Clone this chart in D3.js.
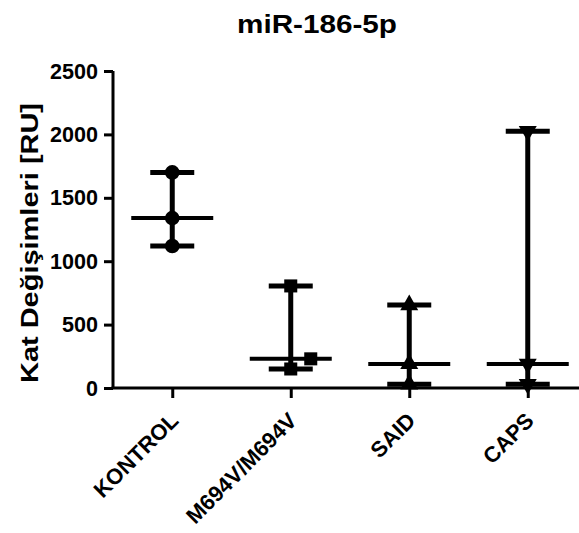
<!DOCTYPE html>
<html>
<head>
<meta charset="utf-8">
<script src="https://cdn.jsdelivr.net/npm/d3@7"></script>
<style>
  body { margin: 0; background: #fff; }
  text { font-family: Arial, "Liberation Sans", sans-serif; }
</style>
</head>
<body>
<svg id="chart" width="579" height="533"></svg>
<script>
const title = 'miR-186-5p';
const yLabel = 'Kat Değişimleri [RU]';
const categories = ['KONTROL', 'M694V/M694V', 'SAID', 'CAPS'];
const kontrol = [1700, 1340, 1120];
const m694v = [805, 230, 150];
const said = [655, 190, 30];
const caps = [2025, 190, 30];
const yTicks = [0, 500, 1000, 1500, 2000, 2500];
const markers = ['circle', 'square', 'triangle', 'triangleDown'];

const groups = [kontrol, m694v, said, caps];
const FONT = 'Arial, "Liberation Sans", sans-serif';

const svg = d3.select('#chart');
const x = d3.scalePoint().domain(categories).range([113, 587]).padding(0.5);
const y = d3.scaleLinear().domain([0, 2500]).range([388, 71]);

// title
svg.append('text')
  .attr('x', 317).attr('y', 33)
  .attr('text-anchor', 'middle')
  .attr('font-size', 25).attr('font-weight', 'bold')
  .attr('textLength', 160).attr('lengthAdjust', 'spacingAndGlyphs')
  .text(title);

// y axis label
svg.append('text')
  .attr('transform', 'translate(38,243) rotate(-90)')
  .attr('text-anchor', 'middle')
  .attr('font-size', 23).attr('font-weight', 'bold')
  .attr('textLength', 280).attr('lengthAdjust', 'spacingAndGlyphs')
  .text(yLabel);

// y axis
const yAxis = svg.append('g')
  .attr('transform', 'translate(113,0)')
  .call(d3.axisLeft(y).tickValues(yTicks).tickSize(9).tickPadding(6).tickFormat(d3.format('d')));
yAxis.select('.domain').attr('stroke-width', 3).attr('d', 'M0,' + y(2500) + 'V' + y(0));
yAxis.selectAll('.tick line').attr('stroke-width', 3);
yAxis.selectAll('.tick text')
  .attr('font-size', 22).attr('font-weight', 'bold').attr('fill', '#000')
  .attr('font-family', FONT)
  .attr('textLength', d => String(d).length * 12)
  .attr('lengthAdjust', 'spacingAndGlyphs');

// x axis
const xAxis = svg.append('g')
  .attr('transform', 'translate(0,388)')
  .call(d3.axisBottom(x).tickSize(10).tickFormat(''));
xAxis.select('.domain').attr('stroke-width', 3).attr('d', 'M111.5,0H579');
xAxis.selectAll('.tick line').attr('stroke-width', 3);

xAxis.selectAll('.tick').append('text')
  .attr('transform', 'translate(7,34) rotate(-45)')
  .attr('text-anchor', 'end')
  .attr('font-size', 22).attr('font-weight', 'bold').attr('fill', '#000')
  .attr('font-family', FONT)
  .text(d => d);

// groups: range bar, median line, points
const symbolFor = {
  circle: d3.symbol().type(d3.symbolCircle).size(170),
  square: d3.symbol().type(d3.symbolSquare).size(170),
  triangle: d3.symbol().type(d3.symbolTriangle).size(140),
  triangleDown: d3.symbol().type(d3.symbolTriangle).size(140)
};

groups.forEach((vals, i) => {
  const cx = x(categories[i]);
  const g = svg.append('g');
  const lo = d3.min(vals), hi = d3.max(vals), med = d3.median(vals);

  g.append('line')
    .attr('x1', cx).attr('x2', cx)
    .attr('y1', y(hi)).attr('y2', y(lo))
    .attr('stroke', '#000').attr('stroke-width', 5);
  [lo, hi].forEach(v => {
    g.append('line')
      .attr('x1', cx - 22).attr('x2', cx + 22)
      .attr('y1', y(v)).attr('y2', y(v))
      .attr('stroke', '#000').attr('stroke-width', 5);
  });
  g.append('line')
    .attr('x1', cx - 41).attr('x2', cx + 41)
    .attr('y1', y(med)).attr('y2', y(med))
    .attr('stroke', '#000').attr('stroke-width', 4);

  // points; a point crowding the next lower one is nudged right
  const sorted = vals.slice().sort((a, b) => b - a);
  sorted.forEach((v, j) => {
    let dx = 0;
    if (j < sorted.length - 1 && Math.abs(y(v) - y(sorted[j + 1])) < 12) dx = 20;
    const rot = markers[i] === 'triangleDown' ? ' rotate(180)' : '';
    g.append('path')
      .attr('d', symbolFor[markers[i]]())
      .attr('transform', 'translate(' + (cx + dx) + ',' + y(v) + ')' + rot)
      .attr('fill', '#000');
  });
});
</script>
</body>
</html>
